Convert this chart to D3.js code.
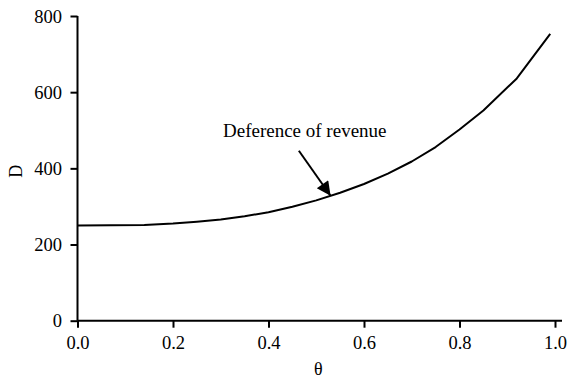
<!DOCTYPE html>
<html>
<head>
<meta charset="utf-8">
<script src="https://cdn.jsdelivr.net/npm/d3@7"></script>
<style>
  html, body { margin: 0; padding: 0; background: #fff; }
  svg { display: block; }
  svg text { font-family: "Liberation Serif", "Times New Roman", serif; fill: #000; }
</style>
</head>
<body>
<svg id="chart" width="573" height="379"></svg>
<script>
// Data
const theta = [0.00, 0.14, 0.20, 0.25, 0.30, 0.35, 0.40, 0.45, 0.50, 0.55, 0.60, 0.65, 0.70, 0.75, 0.80, 0.85, 0.92, 0.99];
const D     = [250,  251,  255,  260,  266,  274,  285,  299,  316,  336,  359,  386,  418,  456,  502,  552,  636,  753];
const xTicks = [0.0, 0.2, 0.4, 0.6, 0.8, 1.0];
const yTicks = [0, 200, 400, 600, 800];
const xLabel = "θ";
const yLabel = "D";
const annotationText = "Deference of revenue";
const annotationTheta = 0.53;   // point on the curve the arrow points to

const svg = d3.select("#chart");
const x = d3.scaleLinear().domain([0, 1]).range([77.5, 555]);
const y = d3.scaleLinear().domain([0, 800]).range([320.7, 16]);
const FONT = '"Liberation Serif", "Times New Roman", serif';

// X axis
const gx = svg.append("g").attr("transform", `translate(0,${y(0)})`)
  .call(d3.axisBottom(x).tickValues(xTicks).tickFormat(d3.format(".1f")).tickSize(7).tickSizeOuter(0));
gx.attr("font-family", null).attr("font-size", null);
gx.select(".domain").remove();
gx.selectAll(".tick line").attr("stroke", "#000").attr("stroke-width", 2);
gx.selectAll(".tick text").attr("y", 28).attr("dy", null)
  .style("font-size", "18.5px").style("font-family", FONT).style("fill", "#000");
gx.append("line").attr("x1", x(0)).attr("x2", x(1) + 7).attr("y1", 0).attr("y2", 0)
  .attr("stroke", "#000").attr("stroke-width", 2);

// Y axis
const gy = svg.append("g").attr("transform", `translate(${x(0)},0)`)
  .call(d3.axisLeft(y).tickValues(yTicks).tickFormat(d3.format("d")).tickSize(7).tickSizeOuter(0));
gy.attr("font-family", null).attr("font-size", null);
gy.select(".domain").remove();
gy.selectAll(".tick line").attr("stroke", "#000").attr("stroke-width", 2);
gy.selectAll(".tick text").attr("x", -15.5).attr("dy", "0.34em")
  .style("font-size", "18.5px").style("font-family", FONT).style("fill", "#000");
gy.append("line").attr("x1", 0).attr("x2", 0).attr("y1", y(800)).attr("y2", y(0))
  .attr("stroke", "#000").attr("stroke-width", 2);

// Axis titles
svg.append("text").attr("x", (x(0) + x(1)) / 2 + 2).attr("y", 375)
  .attr("text-anchor", "middle").style("font-size", "18px").text(xLabel);
svg.append("text").attr("transform", `translate(22,${(y(0) + y(800)) / 2 + 3}) rotate(-90)`)
  .attr("text-anchor", "middle").style("font-size", "18px").text(yLabel);

// Curve
const pts = theta.map((t, i) => [t, D[i]]);
svg.append("path").datum(pts)
  .attr("fill", "none").attr("stroke", "#000").attr("stroke-width", 2)
  .attr("stroke-linejoin", "round")
  .attr("d", d3.line().x(d => x(d[0])).y(d => y(d[1])));

// Annotation
const i0 = d3.bisectLeft(theta, annotationTheta);
const t0 = theta[i0 - 1], t1 = theta[i0];
const dA = D[i0 - 1] + (D[i0] - D[i0 - 1]) * (annotationTheta - t0) / (t1 - t0);
const tipX = x(annotationTheta), tipY = y(dA);

svg.append("defs").append("marker")
  .attr("id", "arrow").attr("viewBox", "0 0 10 10").attr("refX", 10).attr("refY", 5)
  .attr("markerUnits", "userSpaceOnUse").attr("markerWidth", 16).attr("markerHeight", 14)
  .attr("orient", "auto")
  .append("path").attr("d", "M0,0 L10,5 L0,10 Z").attr("fill", "#000");

svg.append("line").attr("x1", tipX - 31.7).attr("y1", tipY - 45).attr("x2", tipX).attr("y2", tipY)
  .attr("stroke", "#000").attr("stroke-width", 2).attr("marker-end", "url(#arrow)");

svg.append("text").attr("x", 223).attr("y", 137).style("font-size", "19px").text(annotationText);
</script>
</body>
</html>
